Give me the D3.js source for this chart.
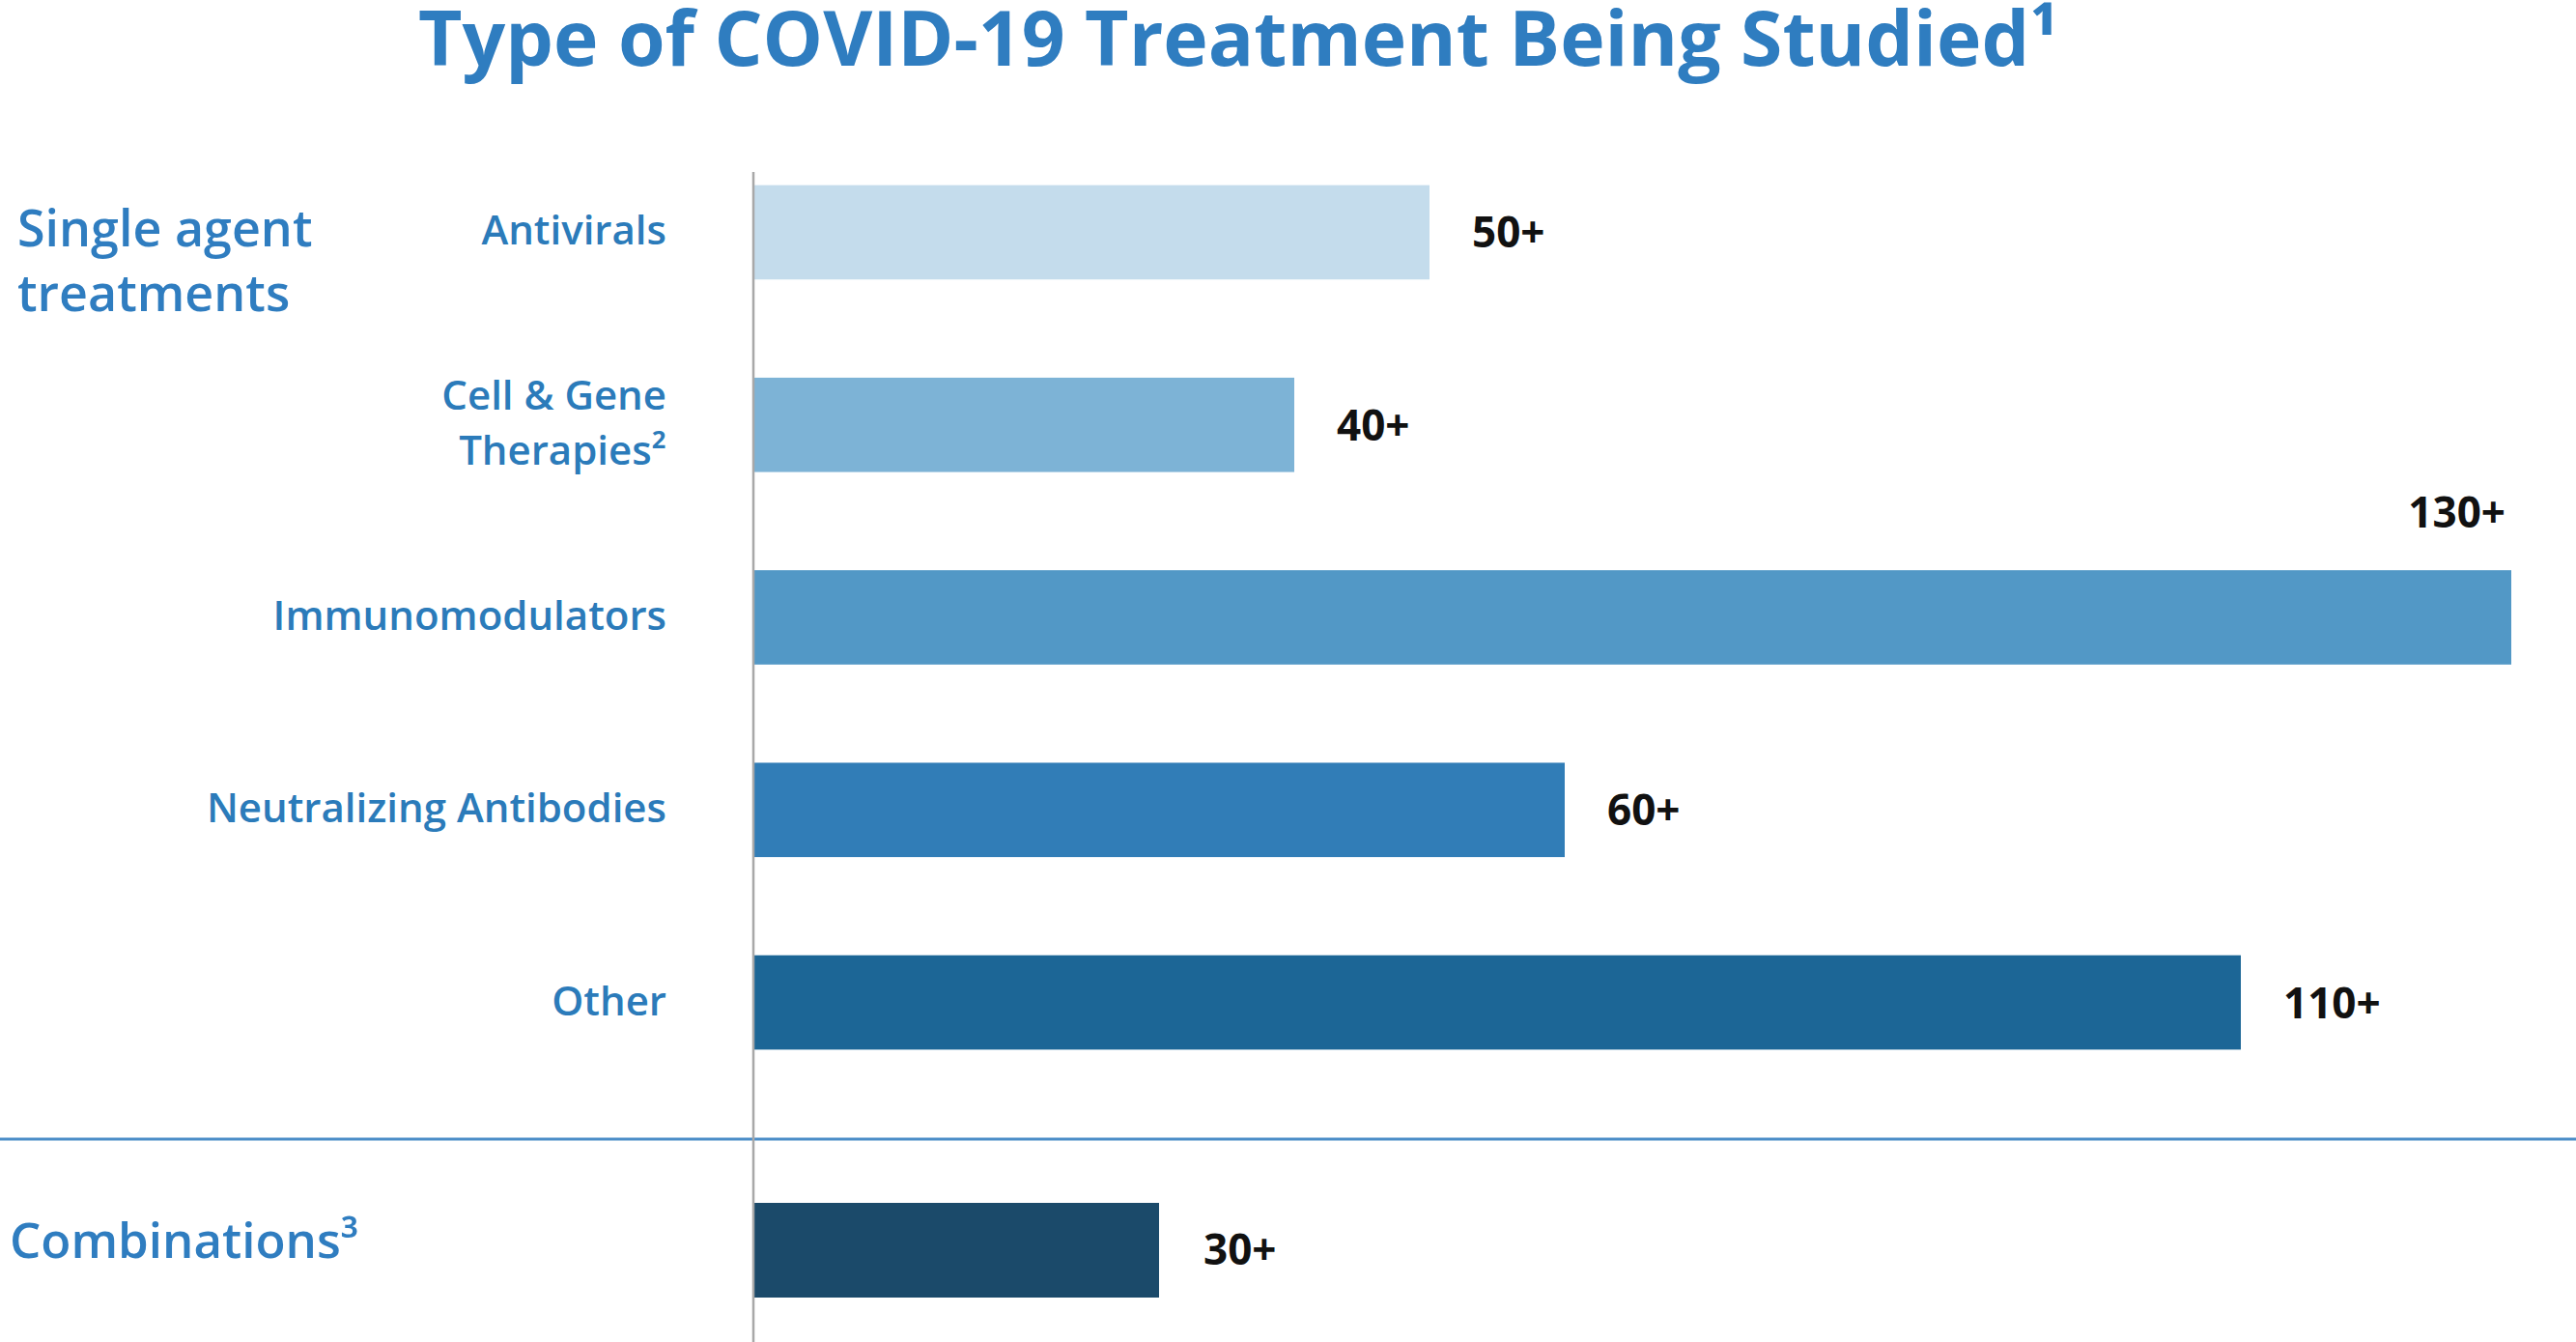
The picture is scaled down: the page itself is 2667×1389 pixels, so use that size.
<!DOCTYPE html>
<html>
<head>
<meta charset="utf-8">
<script src="https://cdn.jsdelivr.net/npm/d3@7"></script>
<style>
  body { margin: 0; background: #fff; }
  text { font-family: "Open Sans", "Noto Sans", sans-serif; }
</style>
</head>
<body>
<div id="chart"></div>
<script>
// data
var categories = ["Antivirals", "Cell & Gene Therapies", "Immunomodulators", "Neutralizing Antibodies", "Other"];
var labelLines = [["Antivirals"], ["Cell & Gene", "Therapies²"], ["Immunomodulators"], ["Neutralizing Antibodies"], ["Other"]];
var values = [50, 40, 130, 60, 110];
var valueLabels = ["50+", "40+", "130+", "60+", "110+"];

var comboCategories = ["Combinations"];
var comboValues = [30];
var comboLabels = ["30+"];

var barColors = ["#C4DCEC", "#7DB3D6", "#5298C6", "#317DB7", "#1C6696"];
var comboColor = "#1B4A6A";
var blue = "#2B7BBA";

var width = 2667, height = 1389;

var svg = d3.select("#chart")
    .append("svg")
    .attr("width", width)
    .attr("height", height);

// x scale: 0..130 across the plot
var x = d3.scaleLinear()
    .domain([0, 130])
    .range([780, 2600]);

var y = d3.scaleBand()
    .domain(categories)
    .range([90, 1188])
    .padding(0.51);

var yc = d3.scaleBand()
    .domain(comboCategories)
    .range([1143, 1445])
    .padding(0.51);

// title
svg.append("text")
    .attr("x", 433)
    .attr("y", 68)
    .attr("font-size", 78)
    .attr("font-weight", 700)
    .attr("fill", "#2F7DC0")
    .attr("textLength", 1698)
    .attr("lengthAdjust", "spacingAndGlyphs")
    .text("Type of COVID-19 Treatment Being Studied¹");

// separator between single agents and combinations
svg.append("line")
    .attr("x1", 0).attr("x2", width)
    .attr("y1", 1179).attr("y2", 1179)
    .attr("stroke", "#4B8DC8")
    .attr("stroke-width", 3);

// bars
svg.selectAll(".bar")
    .data(values)
    .enter().append("rect")
    .attr("class", "bar")
    .attr("x", x(0))
    .attr("y", function(d, i) { return y(categories[i]); })
    .attr("width", function(d) { return x(d) - x(0); })
    .attr("height", y.bandwidth())
    .attr("fill", function(d, i) { return barColors[i]; });

svg.selectAll(".cbar")
    .data(comboValues)
    .enter().append("rect")
    .attr("class", "cbar")
    .attr("x", x(0))
    .attr("y", function(d, i) { return yc(comboCategories[i]); })
    .attr("width", function(d) { return x(d) - x(0); })
    .attr("height", yc.bandwidth())
    .attr("fill", comboColor);

// value labels (the long one goes above its bar)
svg.selectAll(".val")
    .data(values)
    .enter().append("text")
    .attr("class", "val")
    .attr("font-size", 44)
    .attr("font-weight", 700)
    .attr("fill", "#111")
    .attr("text-anchor", function(d) { return x(d) + 150 > width ? "end" : "start"; })
    .attr("x", function(d) { return x(d) + 150 > width ? x(d) - 6 : x(d) + 44; })
    .attr("y", function(d, i) {
        var c = y(categories[i]) + y.bandwidth() / 2;
        return x(d) + 150 > width ? y(categories[i]) - 44 : c + 16;
    })
    .text(function(d, i) { return valueLabels[i]; });

svg.selectAll(".cval")
    .data(comboValues)
    .enter().append("text")
    .attr("class", "cval")
    .attr("font-size", 44)
    .attr("font-weight", 700)
    .attr("fill", "#111")
    .attr("x", function(d) { return x(d) + 46; })
    .attr("y", function(d, i) { return yc(comboCategories[i]) + yc.bandwidth() / 2 + 15; })
    .text(function(d, i) { return comboLabels[i]; });

// category labels
var lab = svg.selectAll(".cat")
    .data(categories)
    .enter().append("text")
    .attr("class", "cat")
    .attr("font-size", 42)
    .attr("font-weight", 600)
    .attr("fill", blue)
    .attr("text-anchor", "end");

lab.each(function(d, i) {
    var lines = labelLines[i];
    var c = y(d) + y.bandwidth() / 2;
    var t = d3.select(this);
    lines.forEach(function(l, j) {
        t.append("tspan")
            .attr("x", 690)
            .attr("y", c + 13 + (j - (lines.length - 1) / 2) * 57)
            .text(l);
    });
});

// group labels on the left
svg.append("text")
    .attr("font-size", 52)
    .attr("font-weight", 600)
    .attr("fill", "#2F7DC0")
    .selectAll("tspan")
    .data(["Single agent", "treatments"])
    .enter().append("tspan")
    .attr("x", 18)
    .attr("y", function(d, i) { return 255 + i * 67; })
    .text(function(d) { return d; });

svg.append("text")
    .attr("x", 10)
    .attr("y", yc(comboCategories[0]) + yc.bandwidth() / 2 + 8)
    .attr("font-size", 51)
    .attr("font-weight", 600)
    .attr("fill", "#2F7DC0")
    .text("Combinations³");

// vertical baseline
svg.append("line")
    .attr("x1", x(0)).attr("x2", x(0))
    .attr("y1", 178).attr("y2", height)
    .attr("stroke", "#A8A8A8")
    .attr("stroke-width", 2.5);
</script>
</body>
</html>
